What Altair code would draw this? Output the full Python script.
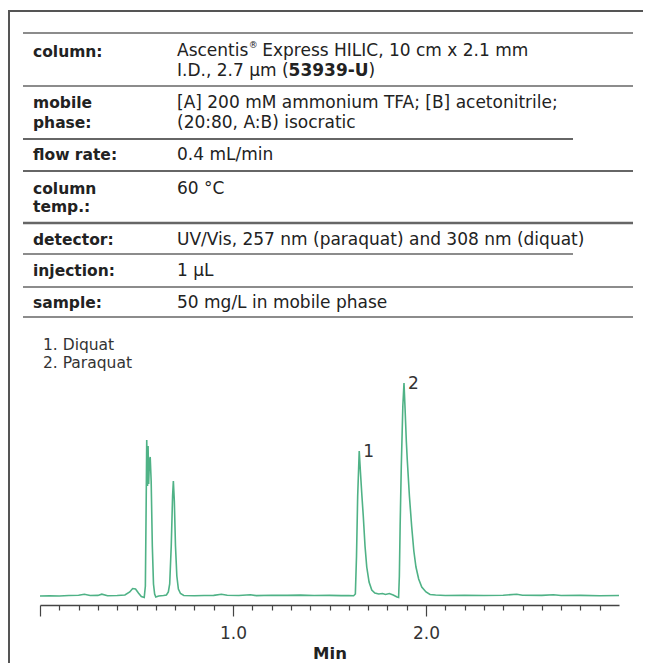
import altair as alt
import pandas as pd

# ---------------- data ----------------
label_lines = [["column:"], ["mobile", "phase:"], ["flow rate:"], ["column", "temp.:"],
               ["detector:"], ["injection:"], ["sample:"]]
column_value = ["Ascentis", "®", "Express HILIC, 10 cm x 2.1 mm", "I.D., 2.7 µm (", "53939-U", ")"]
value_lines = [None,
               ["[A] 200 mM ammonium TFA; [B] acetonitrile;", "(20:80, A:B) isocratic"],
               ["0.4 mL/min"],
               ["60 °C"],
               ["UV/Vis, 257 nm (paraquat) and 308 nm (diquat)"],
               ["1 µL"],
               ["50 mg/L in mobile phase"]]
legend_lines = ["1. Diquat", "2. Paraquat"]
peak_names = ["1", "2"]
peak_times = [1.654, 1.886]
peak_heights = [145, 213]

time = [0.00, 0.05, 0.10, 0.15, 0.20, 0.23, 0.26, 0.30, 0.32, 0.35, 0.40, 0.44,
        0.465, 0.48, 0.495, 0.51, 0.525, 0.540, 0.546, 0.550, 0.553, 0.557, 0.560,
        0.563, 0.567, 0.571, 0.576, 0.582, 0.588, 0.594, 0.600, 0.615, 0.640, 0.655,
        0.665, 0.672, 0.680, 0.687, 0.691, 0.696, 0.702, 0.709, 0.717, 0.728, 0.745,
        0.80, 0.85, 0.90, 0.94, 0.97, 1.03, 1.09, 1.12, 1.20, 1.28, 1.35, 1.42, 1.50,
        1.56, 1.60, 1.625, 1.634, 1.640, 1.646, 1.654, 1.660, 1.668, 1.675, 1.684,
        1.693, 1.705, 1.719, 1.735, 1.755, 1.775, 1.79, 1.81, 1.83, 1.850, 1.858,
        1.862, 1.866, 1.872, 1.880, 1.886, 1.892, 1.898, 1.903, 1.914, 1.926, 1.937,
        1.948, 1.962, 1.978, 2.000, 2.021, 2.05, 2.10, 2.20, 2.30, 2.40, 2.47, 2.50,
        2.60, 2.66, 2.70, 2.80, 2.90, 3.00]
signal = [0.0, 0.3, 0.0, 0.5, 0.8, 1.8, 0.5, 0.6, 1.8, 0.3, 0.5, 1.0,
          4, 7.5, 7, 3, -0.5, -1.5, 10, 90, 156, 110, 150,
          112, 135, 139, 115, 50, 12, 2, -1, 0, 0.5, 1,
          4, 12, 50, 100, 115, 95, 50, 20, 7, 2.5, 0.5,
          0.3, 0.5, 0.6, 1.8, 0.8, 0.5, 1.3, 0.4, 0.7, 0.6, 0.9, 0.5, 0.6,
          0.4, 0.5, 0.3, 2, 40, 100, 145, 125, 100, 80, 50,
          29, 14, 6, 3, 2, 2.5, 1.5, 2.5, 1, -1, -1.5,
          20, 70, 130, 190, 213, 185, 155, 136, 100, 69, 45,
          29, 17, 9, 4, 1.5, 1, 0.5, 0.8, 0.5, 0.7, 1.8, 0.7,
          0.6, 1.3, 0.5, 0.6, 0.3, 0.5]
tick_values = [0.0, 0.1, 0.2, 0.3, 0.4, 0.5, 0.6, 0.7, 0.8, 0.9, 1.0, 1.1, 1.2, 1.3, 1.4,
               1.5, 1.6, 1.7, 1.8, 1.9, 2.0, 2.1, 2.2, 2.3, 2.4, 2.5, 2.6, 2.7, 2.8, 2.9]
x_title = "Min"

# ---------------- layout ----------------
X0, Y0 = 40, 335          # page position of the plot-area origin
W, H = 579, 270
FONT = "DejaVu Sans"
one = pd.DataFrame({"k": [0]})


def px(x):
    return x - X0


def py(y):
    return y - Y0


def text_layer(s, x, y, size=17, bold=False, color="#222", align="left"):
    return alt.Chart(one).mark_text(
        text=s, align=align, baseline="middle", font=FONT, fontSize=size,
        fontWeight="bold" if bold else "normal", color=color
    ).encode(x=alt.value(px(x)), y=alt.value(py(y)))


def hrule(y, x1, x2, w, color="#666"):
    return alt.Chart(one).mark_rule(color=color, strokeWidth=w).encode(
        x=alt.value(px(x1)), x2=alt.value(px(x2)), y=alt.value(py(y)))


def band(x1, x2, y1, y2, color="#555"):
    return alt.Chart(one).mark_rect(color=color, strokeWidth=0).encode(
        x=alt.value(px(x1)), x2=alt.value(px(x2)),
        y=alt.value(py(y1)), y2=alt.value(py(y2)))


layers = []

# outer frame (top and left edges) as thin filled bands
layers.append(band(8, 643, 10, 12))
layers.append(band(8, 10, 10, 663))

# table rules (y, x1, x2, width)
rule_specs = [(33, 23, 633, 1.5), (86, 23, 633, 1.5), (139, 23, 573, 2.2),
              (171, 23, 633, 2), (223, 23, 633, 2.5), (254, 23, 573, 1.5),
              (287, 23, 633, 1.5), (317, 23, 633, 1.5)]
for y, x1, x2, w in rule_specs:
    layers.append(hrule(y, x1, x2, w))

LABEL_X, VALUE_X = 33, 177
label_y = [[52], [103, 123], [155], [189, 207], [240], [271], [303]]
value_y = [[51, 71], [103, 123], [155], [189], [240], [271], [303]]

for lines, ys in zip(label_lines, label_y):
    for s, y in zip(lines, ys):
        layers.append(text_layer(s, LABEL_X, y, size=15.5, bold=True))

for lines, ys in zip(value_lines, value_y):
    if lines is None:
        continue
    for s, y in zip(lines, ys):
        layers.append(text_layer(s, VALUE_X, y))

# first row value: superscript ® and bold part number
fs = 17
y1, y2 = value_y[0]
layers.append(text_layer(column_value[0], VALUE_X, y1))
layers.append(text_layer(column_value[1], VALUE_X + 4.195 * fs + 0.5, y1 - 6, size=9))
layers.append(text_layer(column_value[2], VALUE_X + (4.195 + 0.5 + 0.318) * fs, y1))
layers.append(text_layer(column_value[3], VALUE_X, y2))
layers.append(text_layer(column_value[4], VALUE_X + 6.563 * fs, y2, bold=True))
layers.append(text_layer(column_value[5], VALUE_X + (6.563 + 4.707) * fs, y2))

# legend
for s, y in zip(legend_lines, [345, 363]):
    layers.append(text_layer(s, 43, y, size=15.5, color="#333"))

# chromatogram
df = pd.DataFrame({"time": time, "signal": signal})
xscale = alt.Scale(domain=[0, 3], nice=False, zero=False)
yscale = alt.Scale(domain=[-9, 261], nice=False, zero=False)
xaxis = alt.Axis(
    values=tick_values, title=None, grid=False,
    tickSize={"condition": {"test": "datum.value == 0 || datum.value == 1 || datum.value == 2",
                            "value": 11}, "value": 5},
    labelExpr="datum.value == 1 || datum.value == 2 ? format(datum.value, '.1f') : ''",
    labelFont=FONT, labelFontSize=17, labelColor="#333", labelPadding=9,
    domainColor="#444", domainWidth=1.5, tickColor="#444", tickWidth=1.2,
    labelFlush=False, labelOverlap=False)

chrom = alt.Chart(df).mark_line(color="#4fb286", strokeWidth=1.6).encode(
    x=alt.X("time:Q", scale=xscale, axis=xaxis),
    y=alt.Y("signal:Q", scale=yscale, axis=None),
)
layers.append(chrom)

pk = pd.DataFrame({"name": peak_names, "time": peak_times, "signal": peak_heights})
peak_text = alt.Chart(pk).mark_text(
    align="left", baseline="middle", dx=4, dy=1, font=FONT, fontSize=17, color="#333"
).encode(x=alt.X("time:Q", scale=xscale, axis=xaxis),
         y=alt.Y("signal:Q", scale=yscale, axis=None), text="name:N")
layers.append(peak_text)

layers.append(text_layer(x_title, 330, 654, size=16.5, bold=True, align="center"))

chart = alt.layer(*layers).properties(
    width=W, height=H,
    padding={"left": 32, "top": 327, "right": 24, "bottom": 58},
    autosize=alt.AutoSizeParams(type="none"),
).configure_view(stroke=None)

chart.save("out.html", embed_options={"renderer": "svg", "actions": False})
